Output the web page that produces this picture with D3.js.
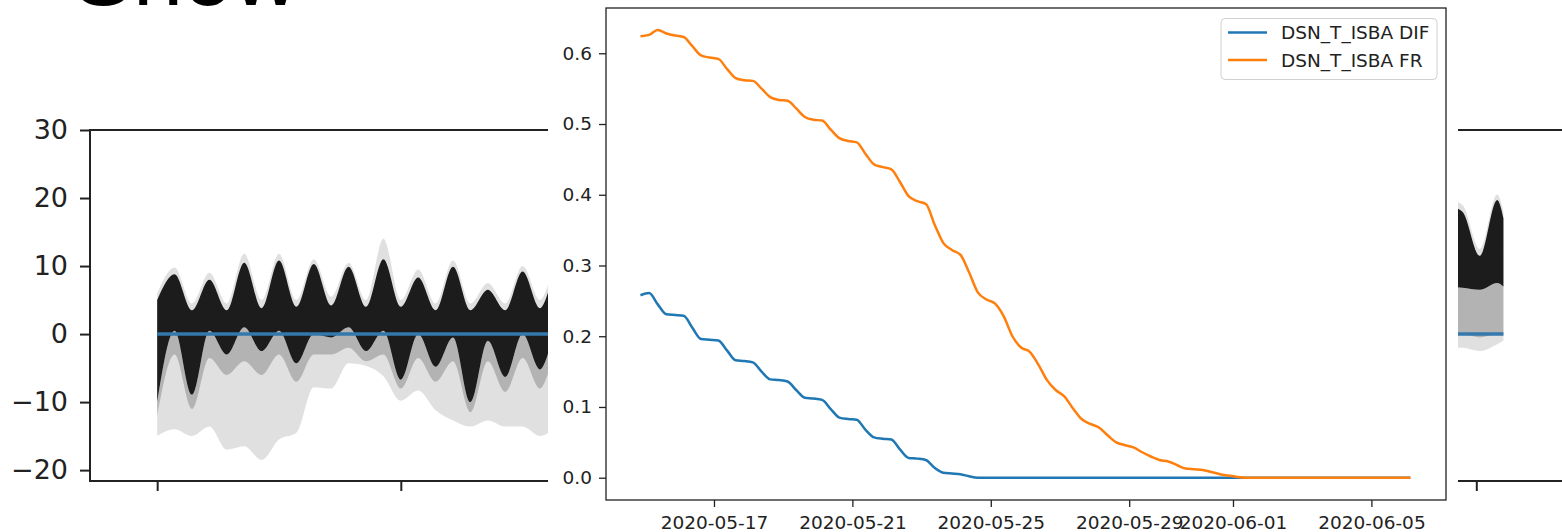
<!DOCTYPE html>
<html>

<head>
    <meta charset="utf-8">
    <style>
        body {
            margin: 0;
            background: #fff;
        }

        svg {
            display: block;
            font-family: "DejaVu Sans", sans-serif;
        }

        .bg .tick text {
            font-family: "DejaVu Sans", sans-serif;
            font-size: 27px;
            fill: #222;
        }

        .bg .tick line {
            stroke: #222;
            stroke-width: 2;
        }

        .fg .tick text {
            font-family: "DejaVu Sans", sans-serif;
            font-size: 18.5px;
            fill: #222;
        }

        .fg .tick line {
            stroke: #222;
            stroke-width: 1.3;
        }

        .domain {
            display: none;
        }

        .legend-text {
            font-size: 18.5px;
            fill: #222;
        }

        .big-title {
            font-family: "Liberation Sans", Arial, sans-serif;
            font-size: 90px;
        }
    </style>
</head>

<body>
    <svg width="1562" height="532"></svg>
</body>

<script src="https://d3js.org/d3.v7.min.js"></script>

<script>
    // ---- background figure: ensemble spread (day index) ----
    let bgDays = [0, 0.5, 1, 1.5, 2, 2.5, 3, 3.5, 4, 4.5, 5, 5.5, 6, 6.5, 7, 7.5, 8, 8.5, 9, 9.5, 10, 10.5, 11, 11.5, 12];
    let bgUpper = [5, 8.8, 3.5, 8.0, 3.5, 10.5, 3.8, 10.8, 4, 10.3, 4.2, 9.9, 4, 11, 4, 8.3, 3.5, 9.9, 3.5, 6.5, 3.5, 9.2, 3.8, 9, 4];
    let bgFaintHigh = [6, 9.8, 4.5, 9, 4.5, 11.8, 5, 11.8, 5, 11, 5.5, 10.5, 5, 14, 5, 9.5, 4.5, 10.8, 4.5, 7.5, 4.5, 10, 5, 10, 5];
    let bgCoreLow = [-10, 0.5, -8.9, 0.5, -3, 1, -2.5, 0.5, -4.3, 0, -0.5, 1, -2.5, 0.5, -6.7, 0, -4.8, -0.5, -10, -1, -6.3, 0, -5.2, 0, -5];
    let bgMidLow = [-12, -3, -11, -3.5, -6, -4, -6, -3, -7, -3, -3, -2, -4, -3, -8, -3.5, -7, -4, -11.5, -4, -8.5, -3.5, -8, -3, -7];
    let bgFaintLow = [-15, -14, -15, -13.6, -17, -16.5, -18.5, -15.5, -14.5, -7.8, -8, -4.3, -4.7, -6.2, -9.8, -8.3, -11.2, -12.7, -13.6, -12.7, -13.6, -13.6, -15, -14, -14];

    // right hand piece that peeks out behind the inset
    let bgDaysR = [37, 37.5, 38, 38.5, 38.68];
    let bgUpperR = [19, 18, 11.5, 19.7, 17];
    let bgFaintHighR = [20, 19, 12.5, 20.5, 18];
    let bgCoreLowR = [7, 6.8, 6.5, 7.5, 7];
    let bgMidLowR = [0, 0, -0.5, 0, 0];
    let bgFaintLowR = [-2, -2, -2.5, -1.5, -1];

    let bgMeanDays = [0, 38.68];
    let bgMean = [0, 0];
    let bgXTicks = [0, 7, 37.9];
    let bgYTicks = [30, 20, 10, 0, -10, -20];

    // ---- inset: snow fraction, one value every 6 hours ----
    let startTime = "2020-05-14T21:00";
    let stepHours = 6;
    let series = ["DSN_T_ISBA DIF", "DSN_T_ISBA FR"];
    let colors = ["#1f77b4", "#ff7f0e"];
    let dif = [
        0.258, 0.261, 0.245, 0.231, 0.230, 0.229, 0.212, 0.196, 0.195, 0.194,
        0.180, 0.166, 0.165, 0.163, 0.150, 0.139, 0.138, 0.136, 0.124, 0.113,
        0.112, 0.110, 0.097, 0.085, 0.083, 0.082, 0.068, 0.057, 0.055, 0.054,
        0.040, 0.028, 0.027, 0.025, 0.014, 0.007, 0.006, 0.005, 0.002, 0.000,
        0, 0, 0, 0, 0, 0, 0, 0, 0, 0,
        0, 0, 0, 0, 0, 0, 0, 0, 0, 0,
        0, 0, 0, 0, 0, 0, 0, 0, 0, 0,
        0, 0, 0, 0, 0, 0, 0, 0, 0, 0,
        0, 0, 0, 0, 0, 0, 0, 0, 0, 0
    ];
    let fr = [
        0.624, 0.626, 0.633, 0.628, 0.625, 0.623, 0.610, 0.597, 0.594, 0.592,
        0.578, 0.565, 0.562, 0.561, 0.550, 0.538, 0.534, 0.533, 0.522, 0.510,
        0.506, 0.505, 0.492, 0.480, 0.476, 0.474, 0.458, 0.443, 0.439, 0.436,
        0.418, 0.398, 0.391, 0.387, 0.358, 0.332, 0.322, 0.315, 0.290, 0.262,
        0.252, 0.246, 0.228, 0.200, 0.184, 0.178, 0.160, 0.138, 0.124, 0.115,
        0.098, 0.083, 0.076, 0.071, 0.060, 0.050, 0.046, 0.043, 0.036, 0.030,
        0.025, 0.023, 0.018, 0.013, 0.012, 0.011, 0.008, 0.005, 0.003, 0.001,
        0, 0, 0, 0, 0, 0, 0, 0, 0, 0,
        0, 0, 0, 0, 0, 0, 0, 0, 0, 0
    ];
    let xTickLabels = ["2020-05-17", "2020-05-21", "2020-05-25", "2020-05-29", "2020-06-01", "2020-06-05"];
    let yTickValues = [0, 0.1, 0.2, 0.3, 0.4, 0.5, 0.6];

    let svg = d3.select("svg");
    let parse = d3.timeParse("%Y-%m-%dT%H:%M");
    let parseDay = d3.timeParse("%Y-%m-%d");

    // ================= background figure =================
    let bgX = d3.scaleLinear()
        .domain([-1.93, 42])
        .range([90, 1619]);

    let bgY = d3.scaleLinear()
        .domain([-21.6, 30])
        .range([481, 130]);

    // big slide heading cut by the top edge
    svg.append("text")
        .attr("class", "big-title")
        .attr("x", 73)
        .attr("y", 5)
        .text("Show");

    let bg = svg.append("g").attr("class", "bg");

    // three shades: faint outliers, mid spread, dense core
    function drawSpread(days, lowF, highF, lowM, lowC, highC) {
        let rows = days.map((d, i) => ({ d: d, lf: lowF[i], hf: highF[i], lm: lowM[i], lc: lowC[i], hc: highC[i] }));
        let band = (lo, hi) => d3.area()
            .x(r => bgX(r.d))
            .y0(r => bgY(r[lo]))
            .y1(r => bgY(r[hi]))
            .curve(d3.curveMonotoneX);
        [["lf", "hf", 0.12], ["lm", "lc", 0.2], ["lc", "hc", 0.88]].forEach(b => {
            bg.append("path")
                .datum(rows)
                .attr("d", band(b[0], b[1]))
                .attr("fill", "#000")
                .attr("fill-opacity", b[2]);
        });
    }
    drawSpread(bgDays, bgFaintLow, bgFaintHigh, bgMidLow, bgCoreLow, bgUpper);
    drawSpread(bgDaysR, bgFaintLowR, bgFaintHighR, bgMidLowR, bgCoreLowR, bgUpperR);

    // ensemble mean
    bg.append("path")
        .datum(bgMeanDays.map((d, i) => [d, bgMean[i]]))
        .attr("d", d3.line().x(p => bgX(p[0])).y(p => bgY(p[1])))
        .attr("fill", "none")
        .attr("stroke", "#3478ad")
        .attr("stroke-width", 3.5);

    // spines
    bg.append("rect")
        .attr("x", bgX.range()[0])
        .attr("y", bgY.range()[1])
        .attr("width", bgX.range()[1] - bgX.range()[0])
        .attr("height", bgY.range()[0] - bgY.range()[1])
        .attr("fill", "none")
        .attr("stroke", "#222")
        .attr("stroke-width", 2);

    bg.append("g")
        .attr("transform", `translate(${bgX.range()[0]},0)`)
        .call(d3.axisLeft(bgY).tickValues(bgYTicks).tickSize(10).tickPadding(12)
            .tickFormat(d => d < 0 ? "\u2212" + Math.abs(d) : d));

    bg.append("g")
        .attr("transform", `translate(0,${bgY.range()[0]})`)
        .call(d3.axisBottom(bgX).tickValues(bgXTicks).tickSize(10).tickFormat(""));

    // ================= inset figure =================
    let times = fr.map((v, i) => d3.timeHour.offset(parse(startTime), i * stepHours));

    let fgX = d3.scaleTime()
        .domain([parse("2020-05-13T21:06"), parse("2020-06-07T03:45")])
        .range([606, 1446]);

    let fgY = d3.scaleLinear()
        .domain([-0.0315, 0.664])
        .range([500, 8]);

    let fg = svg.append("g").attr("class", "fg");

    // white figure background of the inset
    fg.append("rect")
        .attr("x", 548)
        .attr("y", 0)
        .attr("width", 910)
        .attr("height", 532)
        .attr("fill", "#fff");

    fg.append("g")
        .attr("transform", `translate(0,${fgY.range()[0]})`)
        .call(d3.axisBottom(fgX)
            .tickValues(xTickLabels.map(parseDay))
            .tickSize(7)
            .tickPadding(9)
            .tickFormat(d3.timeFormat("%Y-%m-%d")));

    fg.append("g")
        .attr("transform", `translate(${fgX.range()[0]},0)`)
        .call(d3.axisLeft(fgY)
            .tickValues(yTickValues)
            .tickSize(7)
            .tickPadding(7)
            .tickFormat(d3.format(".1f")));

    let line = d3.line()
        .x((v, i) => fgX(times[i]))
        .y(v => fgY(v))
        .curve(d3.curveMonotoneX);

    [dif, fr].forEach((vals, i) => {
        fg.append("path")
            .datum(vals)
            .attr("d", line)
            .attr("fill", "none")
            .attr("stroke", colors[i])
            .attr("stroke-width", 2.5)
            .attr("stroke-linejoin", "round");
    });

    fg.append("rect")
        .attr("x", 606)
        .attr("y", 8)
        .attr("width", 840)
        .attr("height", 492)
        .attr("fill", "none")
        .attr("stroke", "#222")
        .attr("stroke-width", 1.3);

    // legend
    let leg = fg.append("g").attr("transform", "translate(1221,18.5)");
    leg.append("rect")
        .attr("width", 216)
        .attr("height", 61)
        .attr("rx", 4)
        .attr("fill", "#fff")
        .attr("fill-opacity", 0.8)
        .attr("stroke", "#d0d0d0")
        .attr("stroke-width", 1);

    series.forEach((name, i) => {
        let yy = 14 + i * 27.5;
        leg.append("line")
            .attr("x1", 7)
            .attr("x2", 46)
            .attr("y1", yy)
            .attr("y2", yy)
            .attr("stroke", colors[i])
            .attr("stroke-width", 2.5);
        leg.append("text")
            .attr("class", "legend-text")
            .attr("x", 60)
            .attr("y", yy)
            .attr("dy", "0.36em")
            .text(name);
    });
</script>

</html>
